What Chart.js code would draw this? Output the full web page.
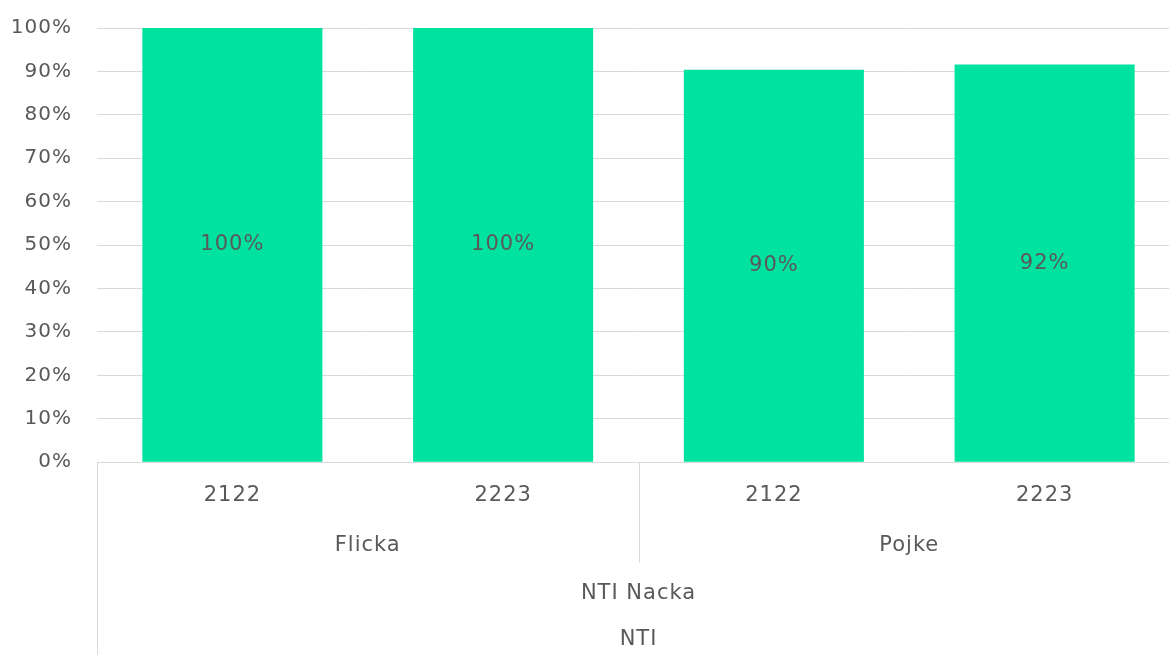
<!DOCTYPE html>
<html>
<head>
<meta charset="utf-8">
<script src="https://cdn.jsdelivr.net/npm/chart.js@4/dist/chart.umd.min.js"></script>
<style>
  html, body { margin: 0; padding: 0; background: #fff; overflow: hidden; }
</style>
</head>
<body>
<canvas id="chart" width="1180" height="655"></canvas>
<script>
// chart data
const years = ['2122', '2223', '2122', '2223'];
const genders = ['Flicka', 'Pojke'];
const schools = ['NTI Nacka'];
const groups = ['NTI'];
const values = [100, 100, 90.4, 91.6];
const yTicks = [0, 10, 20, 30, 40, 50, 60, 70, 80, 90, 100];

const textColor = '#595959';
const lineColor = '#d9d9d9';
const font = { family: 'DejaVu Sans', size: 21 };

// wider letters, closer to the original font
const spacing = {
    id: 'spacing',
    beforeLayout(chart) { chart.ctx.letterSpacing = '1px'; },
    beforeDraw(chart) { chart.ctx.letterSpacing = '1px'; }
};

// writes the percent in the middle of each bar
const barLabels = {
    id: 'barLabels',
    afterDatasetsDraw(chart) {
        const ctx = chart.ctx;
        const meta = chart.getDatasetMeta(0);
        ctx.save();
        ctx.font = font.size + 'px ' + font.family;
        ctx.fillStyle = textColor;
        ctx.textAlign = 'center';
        ctx.textBaseline = 'middle';
        meta.data.forEach((bar, i) => {
            ctx.fillText(Math.round(values[i]) + '%', bar.x, (bar.y + bar.base) / 2);
        });
        ctx.restore();
    }
};

// separator lines of the grouped category axis
const groupLines = {
    id: 'groupLines',
    afterDraw(chart) {
        const ctx = chart.ctx;
        const x = chart.scales.x;
        const area = chart.chartArea;
        const mid = (x.getPixelForValue(1) + x.getPixelForValue(2)) / 2;
        ctx.save();
        ctx.strokeStyle = lineColor;
        ctx.lineWidth = 1;
        ctx.beginPath();
        ctx.moveTo(Math.round(area.left) + 0.5, area.bottom);
        ctx.lineTo(Math.round(area.left) + 0.5, chart.scales.x4.bottom);
        ctx.moveTo(Math.round(mid) + 0.5, area.bottom);
        ctx.lineTo(Math.round(mid) + 0.5, chart.scales.x2.bottom);
        ctx.moveTo(Math.round(area.right) - 0.5, area.bottom);
        ctx.lineTo(Math.round(area.right) - 0.5, chart.scales.x4.bottom);
        ctx.stroke();
        ctx.restore();
    }
};

function labelAxis(labels, weight, padding) {
    return {
        type: 'category',
        position: 'bottom',
        labels: labels,
        weight: weight,
        offset: true,
        grid: { display: false, drawTicks: false },
        border: { display: false },
        ticks: { color: textColor, font: font, padding: padding, maxRotation: 0, autoSkip: false }
    };
}

new Chart(document.getElementById('chart'), {
    type: 'bar',
    data: {
        labels: years,
        datasets: [{
            data: values,
            backgroundColor: '#00e2a0',
            barPercentage: 0.665,
            categoryPercentage: 1
        }]
    },
    options: {
        responsive: false,
        animation: false,
        layout: { padding: { top: 28, right: 0, bottom: 0, left: 0 } },
        plugins: {
            legend: { display: false },
            tooltip: { enabled: false }
        },
        scales: {
            x: labelAxis(years, 0, 21),
            x2: labelAxis(genders, 1, 4),
            x3: labelAxis(schools, 2, 18),
            x4: labelAxis(groups, 3, 3),
            y: {
                min: 0,
                max: 100,
                afterBuildTicks(scale) {
                    scale.ticks = yTicks.map(v => ({ value: v }));
                },
                afterFit(scale) {
                    scale.width = 97;
                    scale.paddingTop = 0;
                    scale.paddingBottom = 0;
                },
                grid: { color: lineColor, drawTicks: false },
                border: { display: false },
                ticks: {
                    color: textColor,
                    font: { family: font.family, size: 20 },
                    padding: 25,
                    callback: v => v + '%'
                }
            }
        }
    },
    plugins: [spacing, barLabels, groupLines]
});
</script>
</body>
</html>
